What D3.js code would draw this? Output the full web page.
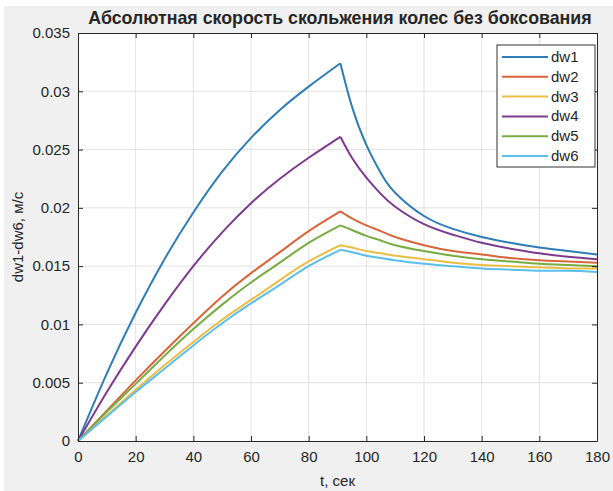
<!DOCTYPE html>
<html>
<head>
<meta charset="utf-8">
<script src="https://cdn.jsdelivr.net/npm/d3@7"></script>
<style>
  body { margin: 0; background: #fff; }
  text { font-family: "Liberation Sans", Arial, sans-serif; fill: #262626; }
</style>
</head>
<body>
<svg id="main" width="613" height="491"></svg>
<script>
// time samples: rise up to the peak, then decay
const tRise = [0, 10, 20, 30, 40, 50, 60, 70, 80, 91];
const tFall = [91, 95, 100, 105, 110, 120, 130, 140, 150, 160, 170, 180];

const names = ["dw1", "dw2", "dw3", "dw4", "dw5", "dw6"];
const colors = ["#2f7db6", "#d9653b", "#ebbd45", "#7d3b8e", "#78ab42", "#5bbfe9"];

const dw1Rise = [0, 0.0058, 0.0110, 0.0156, 0.0196, 0.0231, 0.0260, 0.0284, 0.0304, 0.0324];
const dw2Rise = [0, 0.0026, 0.0052, 0.0077, 0.0101, 0.0124, 0.0144, 0.0162, 0.0180, 0.0197];
const dw3Rise = [0, 0.0022, 0.0044, 0.0065, 0.0085, 0.0104, 0.0121, 0.0138, 0.0154, 0.0168];
const dw4Rise = [0, 0.0042, 0.0081, 0.0117, 0.0150, 0.0179, 0.0204, 0.0225, 0.0243, 0.0261];
const dw5Rise = [0, 0.0025, 0.0049, 0.0073, 0.0096, 0.0117, 0.0136, 0.0153, 0.0170, 0.0185];
const dw6Rise = [0, 0.0021, 0.0042, 0.0062, 0.0082, 0.0101, 0.0118, 0.0134, 0.0150, 0.0164];

const dw1Fall = [0.0324, 0.0287, 0.0254, 0.0230, 0.0213, 0.0193, 0.0182, 0.0175, 0.0170, 0.0166, 0.0163, 0.0160];
const dw2Fall = [0.0197, 0.0191, 0.0185, 0.0180, 0.0175, 0.0168, 0.0163, 0.0160, 0.0157, 0.0155, 0.0154, 0.0153];
const dw3Fall = [0.0168, 0.0166, 0.0163, 0.0161, 0.0159, 0.0156, 0.0153, 0.0151, 0.0150, 0.0149, 0.0148, 0.0148];
const dw4Fall = [0.0261, 0.0243, 0.0226, 0.0212, 0.0201, 0.0186, 0.0177, 0.0170, 0.0165, 0.0161, 0.0158, 0.0156];
const dw5Fall = [0.0185, 0.0181, 0.0176, 0.0172, 0.0168, 0.0163, 0.0159, 0.0156, 0.0154, 0.0152, 0.0151, 0.0150];
const dw6Fall = [0.0164, 0.0162, 0.0159, 0.0157, 0.0155, 0.0152, 0.0150, 0.0148, 0.0147, 0.0146, 0.0146, 0.0145];

const xTicks = [0, 20, 40, 60, 80, 100, 120, 140, 160, 180];
const yTicks = [0, 0.005, 0.01, 0.015, 0.02, 0.025, 0.03, 0.035];

const rises = [dw1Rise, dw2Rise, dw3Rise, dw4Rise, dw5Rise, dw6Rise];
const falls = [dw1Fall, dw2Fall, dw3Fall, dw4Fall, dw5Fall, dw6Fall];

/////////////////////////////////////////////////////////

const svg = d3.select("#main");
const L = 78, R = 597, T = 33, B = 441;

const x = d3.scaleLinear().domain([0, 180]).range([L, R]);
const y = d3.scaleLinear().domain([0, 0.035]).range([B, T]);

// figure background + axes background
svg.append("rect").attr("x", 4).attr("y", 6).attr("width", 609).attr("height", 485).attr("fill", "#f0f0f0");
svg.append("rect").attr("x", L).attr("y", T).attr("width", R - L).attr("height", B - T).attr("fill", "#fff");

// grid
svg.append("g").selectAll("line").data(xTicks.slice(1, -1)).enter().append("line")
    .attr("x1", d => x(d)).attr("x2", d => x(d)).attr("y1", T).attr("y2", B)
    .attr("stroke", "#e3e3e3").attr("stroke-width", 1);
svg.append("g").selectAll("line").data(yTicks.slice(1, -1)).enter().append("line")
    .attr("y1", d => y(d)).attr("y2", d => y(d)).attr("x1", L).attr("x2", R)
    .attr("stroke", "#e3e3e3").attr("stroke-width", 1);

// series: rise and decay drawn as two smooth pieces meeting at the sharp peak
const line = d3.line().x(d => x(d[0])).y(d => y(d[1])).curve(d3.curveNatural);
const series = names.map((n, i) => ({
    name: n,
    color: colors[i],
    rise: tRise.map((t, j) => [t, rises[i][j]]),
    fall: tFall.map((t, j) => [t, falls[i][j]])
}));
svg.append("g").selectAll("path").data(series).enter().append("path")
    .attr("d", d => line(d.rise) + line(d.fall))
    .attr("fill", "none")
    .attr("stroke", d => d.color)
    .attr("stroke-width", 2)
    .attr("stroke-linejoin", "round");

// axes (box with inward ticks)
const fmt = d => d === 0 ? "0" : String(+d.toFixed(3));
svg.append("g").attr("transform", `translate(0,${B})`)
    .call(d3.axisBottom(x).tickValues(xTicks).tickSizeInner(-5).tickSizeOuter(0).tickPadding(10))
    .call(g => g.selectAll("text").attr("font-size", 15).attr("fill", "#262626"));
svg.append("g").attr("transform", `translate(${L},0)`)
    .call(d3.axisLeft(y).tickValues(yTicks).tickFormat(fmt).tickSizeInner(-5).tickSizeOuter(0).tickPadding(8))
    .call(g => g.selectAll("text").attr("font-size", 15).attr("fill", "#262626"));
svg.append("g").attr("transform", `translate(0,${T})`)
    .call(d3.axisTop(x).tickValues(xTicks).tickSizeInner(-5).tickSizeOuter(0).tickFormat(""));
svg.append("g").attr("transform", `translate(${R},0)`)
    .call(d3.axisRight(y).tickValues(yTicks).tickSizeInner(-5).tickSizeOuter(0).tickFormat(""));
svg.selectAll(".domain, .tick line").attr("stroke", "#262626");
svg.selectAll(".tick text").attr("font-family", "Liberation Sans, Arial, sans-serif");

// title and labels
svg.append("text").attr("x", 340).attr("y", 24).attr("text-anchor", "middle")
    .attr("font-size", 17.8).attr("font-weight", "bold")
    .text("Абсолютная скорость скольжения колес без боксования");
svg.append("text").attr("x", (L + R) / 2).attr("y", 486).attr("text-anchor", "middle")
    .attr("font-size", 15).text("t, сек");
svg.append("text").attr("transform", `translate(23,${(T + B) / 2}) rotate(-90)`)
    .attr("text-anchor", "middle").attr("font-size", 15).text("dw1-dw6, м/с");

// legend
const lg = svg.append("g");
lg.append("rect").attr("x", 497).attr("y", 45).attr("width", 98).attr("height", 122)
    .attr("fill", "#fff").attr("stroke", "#333").attr("stroke-width", 1);
const item = lg.selectAll(".item").data(series).enter().append("g")
    .attr("transform", (d, i) => `translate(0,${57 + i * 19.8})`);
item.append("line").attr("x1", 502).attr("x2", 548).attr("y1", 0).attr("y2", 0)
    .attr("stroke", d => d.color).attr("stroke-width", 2);
item.append("text").attr("x", 551).attr("y", 5).attr("font-size", 15).text(d => d.name);
</script>
</body>
</html>
